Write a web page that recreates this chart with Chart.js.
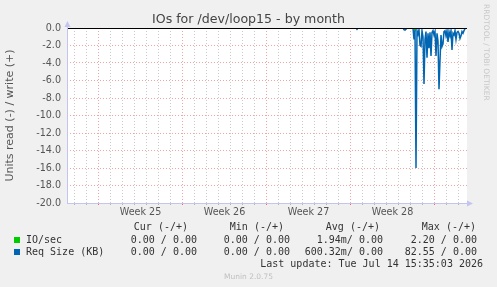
<!DOCTYPE html>
<html>
<head>
<meta charset="utf-8">
<script src="https://cdn.jsdelivr.net/npm/chart.js@4.4.1/dist/chart.umd.min.js"></script>
<style>
  html, body { margin: 0; padding: 0; background: #f0f0f0; }
  #wrap { position: relative; width: 497px; height: 287px; overflow: hidden; }
  #chart { position: absolute; left: 0; top: 0; }
  .t { position: absolute; white-space: pre; line-height: 12px; }
  .mono { font-family: 'DejaVu Sans Mono', monospace; font-size: 10px; color: #333; }
  .title { font-family: 'DejaVu Sans', sans-serif; font-size: 12.6px; color: #444; left: 0; width: 497px; text-align: center; top: 12px; line-height: 14px; }
  .munin { font-family: 'DejaVu Sans', sans-serif; font-size: 7.5px; color: #c0c0c0; left: 0; width: 497px; text-align: center; top: 271px; }
  .rrd { font-family: 'DejaVu Sans', sans-serif; font-size: 7.5px; color: #c8c8c8; writing-mode: vertical-rl; left: 482px; top: 4px; line-height: 9px; }
  .sw { position: absolute; width: 6px; height: 6px; }
</style>
</head>
<body>
<div id="wrap">
  <canvas id="chart" width="497" height="287"></canvas>
  <div class="t title">IOs for /dev/loop15 - by month</div>
  <div class="t rrd">RRDTOOL / TOBI OETIKER</div>
  <div id="legend"></div>
  <div class="t munin">Munin 2.0.75</div>
</div>
<script>
// ---- data (x = 2-hour slot from left edge of graph) ----
const totalSlots = 400;
const slotsPerDay = 12;
const firstMondaySlot = 31.5;
const weekLabels = ['Week 25', 'Week 26', 'Week 27', 'Week 28'];

const yTickMin = -20;
const yTickMax = 0;

// IO/sec, read (-)
const ioSlots = [0, 347, 348, 349, 398];
const ioRead  = [0, 0, -0.3, 0, 0];

// Req Size (KB), read (-)
const reqSlots = [0, 289, 290, 291, 336, 337, 338, 339, 340, 346,
  347, 348, 349, 350, 351, 352, 353, 354, 355, 356,
  357, 358, 359, 360, 361, 362, 363, 364, 365, 366,
  367, 368, 369, 370, 371, 372, 373, 374, 375, 376,
  377, 378, 379, 380, 381, 382, 383, 384, 385, 386,
  387, 388, 389, 390, 391, 392, 393, 394, 395, 396,
  397, 398];
const reqRead = [0, 0, -0.15, 0, 0, -0.2, -0.25, -0.15, 0, 0,
  -1.3, -0.2, -16.0, -0.3, -0.7, -0.2, -2.0, -2.1, -0.3, -1.0,
  -6.4, -1.3, -0.4, -3.4, -0.6, -2.3, -0.5, -3.2, -0.5, -0.3,
  -0.8, -0.4, -3.2, -0.6, -1.5, -7.0, -3.7, -0.8, -2.1, -1.8,
  -0.4, -0.3, -0.9, -0.3, -1.6, -0.4, -0.9, -0.3, -2.5, -0.6,
  -0.8, -0.3, -1.3, -0.5, -0.4, -0.6, -1.2, -0.9, -0.4, -0.6,
  -0.3, -0.1];

// legend table
const legendHeaders = ['Cur (-/+)', 'Min (-/+)', 'Avg (-/+)', 'Max (-/+)'];
const legendRows = [
  { name: 'IO/sec',        color: '#00cc00', cells: ['0.00 / 0.00', '0.00 / 0.00', '1.94m/ 0.00', '2.20 / 0.00'] },
  { name: 'Req Size (KB)', color: '#0066b3', cells: ['0.00 / 0.00', '0.00 / 0.00', '600.32m/ 0.00', '82.55 / 0.00'] }
];
const lastUpdate = 'Last update: Tue Jul 14 15:35:03 2026';

// ---- legend (plain text) ----
const legend = document.getElementById('legend');
function addText(txt, left, top, cls) {
  const d = document.createElement('div');
  d.className = 't ' + (cls || 'mono');
  d.style.left = left + 'px';
  d.style.top = top + 'px';
  d.textContent = txt;
  legend.appendChild(d);
}
const headerRight = [188, 284, 380, 476];
const valueRight = [197, 290, 383, 477];
legendHeaders.forEach((h, i) => addText(h, headerRight[i] - h.length * 6.02, 221));
legendRows.forEach((row, r) => {
  const top = 234 + r * 12;
  const sw = document.createElement('div');
  sw.className = 'sw';
  sw.style.background = row.color;
  sw.style.left = '14px';
  sw.style.top = (top + 3) + 'px';
  legend.appendChild(sw);
  addText(row.name, 26, top);
  row.cells.forEach((c, i) => addText(c, valueRight[i] - c.length * 6.02, top));
});
addText(lastUpdate, 483 - lastUpdate.length * 6.02, 258);

// ---- chart ----
const xTicks = [];
for (let s = firstMondaySlot - 2 * slotsPerDay; s < totalSlots; s += slotsPerDay) xTicks.push(s);
const labelTicks = {};
weekLabels.forEach((w, i) => { labelTicks[firstMondaySlot + 3.5 * slotsPerDay + i * 7 * slotsPerDay] = w; });

const axisColor = '#c4c4f0';
const majorGrid = 'rgba(235, 70, 70, 0.5)';
const minorGrid = 'rgba(140, 140, 140, 0.45)';

const muninFrame = {
  id: 'muninFrame',
  beforeDraw(chart) {
    const { ctx, chartArea: a } = chart;
    ctx.save();
    ctx.fillStyle = '#ffffff';
    ctx.fillRect(a.left, a.top, a.right - a.left, a.bottom - a.top);
    ctx.restore();
  },
  afterDatasetsDraw(chart) {
    const { ctx, chartArea: a, scales } = chart;
    const y0 = Math.round(scales.y.getPixelForValue(0)) + 0.5;
    ctx.save();
    ctx.strokeStyle = '#000';
    ctx.lineWidth = 1;
    ctx.beginPath();
    ctx.moveTo(a.left, y0);
    ctx.lineTo(a.right, y0);
    ctx.stroke();
    ctx.restore();
  },
  afterDraw(chart) {
    const { ctx, chartArea: a } = chart;
    const x = a.left + 0.5, y = Math.round(a.bottom) + 0.5;
    ctx.save();
    ctx.strokeStyle = axisColor;
    ctx.fillStyle = axisColor;
    ctx.lineWidth = 1;
    ctx.beginPath();
    ctx.moveTo(x, y); ctx.lineTo(x, a.top - 3);
    ctx.moveTo(a.left, y); ctx.lineTo(a.right + 3, y);
    ctx.stroke();
    ctx.beginPath();
    ctx.moveTo(x, a.top - 7); ctx.lineTo(x - 3, a.top - 1); ctx.lineTo(x + 3, a.top - 1);
    ctx.closePath(); ctx.fill();
    ctx.beginPath();
    ctx.moveTo(a.right + 6, y); ctx.lineTo(a.right, y - 3); ctx.lineTo(a.right, y + 3);
    ctx.closePath(); ctx.fill();
    ctx.restore();
  }
};

new Chart(document.getElementById('chart'), {
  type: 'line',
  data: {
    datasets: [
      {
        label: 'IO/sec',
        data: ioSlots.map((s, i) => ({ x: s, y: ioRead[i] })),
        borderColor: '#00cc00',
        borderWidth: 1.3,
        pointRadius: 0,
        order: 2
      },
      {
        label: 'Req Size (KB)',
        data: reqSlots.map((s, i) => ({ x: s, y: reqRead[i] })),
        borderColor: '#0066b3',
        borderWidth: 1.5,
        pointRadius: 0,
        order: 1
      }
    ]
  },
  options: {
    responsive: false,
    devicePixelRatio: 1,
    animation: false,
    events: [],
    layout: { padding: { top: 28, right: 30, left: 0, bottom: 0 } },
    plugins: { legend: { display: false }, tooltip: { enabled: false } },
    scales: {
      x: {
        type: 'linear',
        min: 0,
        max: totalSlots,
        afterFit: scale => { scale.height = 84; },
        afterBuildTicks: scale => {
          const vals = xTicks.concat(Object.keys(labelTicks).map(Number)).sort((a, b) => a - b);
          scale.ticks = vals.map(v => ({ value: v }));
        },
        grid: {
          color: ctx => {
            const v = ctx.tick && ctx.tick.value;
            if (labelTicks[v]) return 'rgba(0,0,0,0)';
            return ((v - firstMondaySlot) % (7 * slotsPerDay) === 0) ? majorGrid : minorGrid;
          },
          tickColor: ctx => {
            const v = ctx.tick && ctx.tick.value;
            if (labelTicks[v]) return 'rgba(0,0,0,0)';
            return ((v - firstMondaySlot) % (7 * slotsPerDay) === 0) ? 'rgba(235,70,70,0.8)' : 'rgba(140,140,140,0.6)';
          },
          tickLength: 2,
          lineWidth: 1
        },
        border: { display: false, dash: [1, 2] },
        ticks: {
          autoSkip: false,
          maxRotation: 0,
          padding: 2,
          color: '#555',
          font: { family: "'DejaVu Sans', sans-serif", size: 9.6 },
          callback: v => labelTicks[v] || ''
        }
      },
      y: {
        min: yTickMin,
        max: yTickMax,
        afterFit: scale => { scale.width = 67; },
        grid: {
          color: ctx => {
            const v = ctx.tick && ctx.tick.value;
            if (v === 0) return 'rgba(0,0,0,0)';
            return v % 2 === 0 ? majorGrid : minorGrid;
          },
          drawTicks: false,
          lineWidth: 1
        },
        border: { display: false, dash: [1, 2] },
        ticks: {
          stepSize: 1,
          padding: 6,
          color: '#555',
          font: { family: "'DejaVu Sans', sans-serif", size: 9.6 },
          callback: v => (v % 2 === 0 ? v.toFixed(1) : '')
        },
        title: {
          display: true,
          text: 'Units read (-) / write (+)',
          color: '#555',
          font: { family: "'DejaVu Sans', sans-serif", size: 11 }
        }
      }
    }
  },
  plugins: [muninFrame]
});
</script>
</body>
</html>
